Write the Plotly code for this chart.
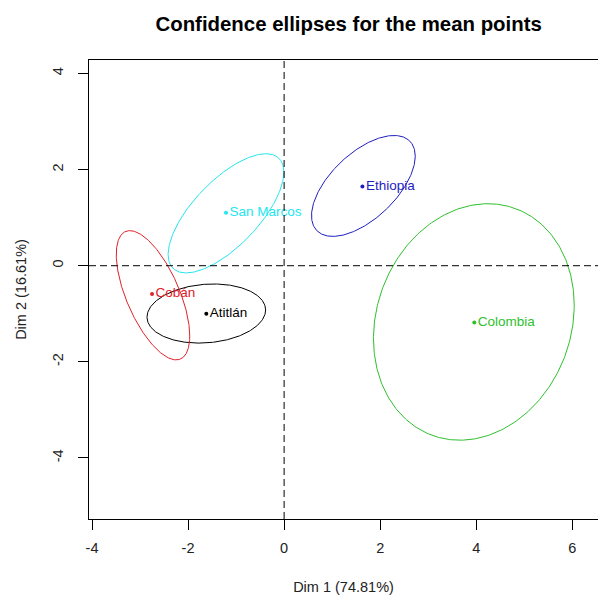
import numpy as np
import plotly.graph_objects as go

# Group mean points (Dim 1, Dim 2)
groups = ["Atitlán", "Cobán", "Colombia", "Ethiopia", "San Marcos"]
dim1 = [-1.62, -2.75, 3.96, 1.63, -1.21]
dim2 = [-1.00, -0.59, -1.18, 1.65, 1.10]

# Confidence ellipses: centre, half-extent along Dim1 / Dim2, correlation
ell_cx = [-1.62, -2.73, 3.95, 1.65, -1.21]
ell_cy = [-0.995, -0.615, -1.17, 1.66, 1.09]
ell_sx = [1.235, 0.765, 2.09, 1.08, 1.205]
ell_sy = [0.615, 1.345, 2.46, 1.05, 1.24]
ell_rho = [0.12, -0.63, 0.14, 0.59, 0.69]

colors = ["#000000", "#E0202A", "#2EC02E", "#1E1EC0", "#22E6EE"]

x_ticks = [-4, -2, 0, 2, 4, 6]
y_ticks = [-4, -2, 0, 2, 4]

fig = go.Figure()
t = np.linspace(0, 2 * np.pi, 361)
for i, g in enumerate(groups):
    ex = ell_cx[i] + ell_sx[i] * np.cos(t)
    ey = ell_cy[i] + ell_sy[i] * (ell_rho[i] * np.cos(t) + np.sqrt(1 - ell_rho[i] ** 2) * np.sin(t))
    fig.add_trace(go.Scatter(x=ex, y=ey, mode="lines", line=dict(color=colors[i], width=1),
                             hoverinfo="skip", showlegend=False))

for i, g in enumerate(groups):
    fig.add_trace(go.Scatter(x=[dim1[i]], y=[dim2[i]], mode="markers+text", text=[g],
                             textposition="middle right",
                             marker=dict(color=colors[i], size=4),
                             textfont=dict(color=colors[i], size=13.5, family="Liberation Sans, Arial"),
                             showlegend=False, name=g))

fig.add_hline(y=0, line=dict(color="black", width=1, dash="7px,4px"))
fig.add_vline(x=0, line=dict(color="black", width=1, dash="7px,4px"))

fig.update_layout(
    width=598, height=601,
    margin=dict(l=89, r=0, t=60, b=82, autoexpand=False),
    paper_bgcolor="white", plot_bgcolor="white",
    font=dict(family="Liberation Sans, Arial", color="#222222", size=14.5),
    title=dict(text="<b>Confidence ellipses for the mean points</b>",
               x=0.583, xref="container", xanchor="center",
               y=1 - 23.5 / 601, yref="container", yanchor="middle",
               font=dict(size=20.4, color="black", family="Liberation Sans, Arial")),
    xaxis=dict(range=[-4.0625, 6.535], tickvals=x_ticks, ticktext=[str(v) for v in x_ticks],
               showgrid=False, zeroline=False, showline=True, linecolor="black", linewidth=1,
               mirror=True, ticks="outside", ticklen=10, tickcolor="black",
               ticklabelstandoff=6,
               title=dict(text="Dim 1 (74.81%)", standoff=26, font=dict(size=14.5)),
               tickfont=dict(size=14.5)),
    yaxis=dict(range=[-5.27, 4.28], tickvals=y_ticks, ticktext=[str(v) for v in y_ticks],
               showgrid=False, zeroline=False, showline=True, linecolor="black", linewidth=1,
               ticks="outside", ticklen=10, tickcolor="black", tickangle=-90,
               ticklabelstandoff=9,
               title=dict(text="Dim 2 (16.61%)", standoff=20, font=dict(size=14.5)),
               tickfont=dict(size=14.5)),
)

fig.write_html("out.html", config={"displayModeBar": False},
               post_script="document.body.style.margin='0';")
